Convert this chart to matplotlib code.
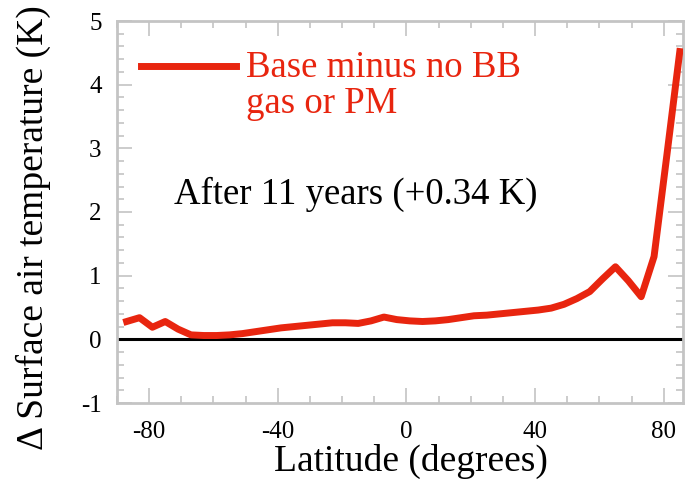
import numpy as np
import matplotlib.pyplot as plt
from matplotlib.ticker import MultipleLocator

plt.rcParams['font.family'] = ['Liberation Serif', 'DejaVu Serif']
plt.rcParams['axes.unicode_minus'] = False

# zonal mean change in surface air temperature, 4-degree latitude bands
lat = np.arange(-87, 86, 4)
dT = [0.28, 0.34, 0.19, 0.28, 0.16, 0.07, 0.06, 0.06, 0.07, 0.09,
      0.12, 0.15, 0.18, 0.20, 0.22, 0.24, 0.26, 0.26, 0.25, 0.29,
      0.35, 0.31, 0.29, 0.28, 0.29, 0.31, 0.34, 0.37, 0.38, 0.40,
      0.42, 0.44, 0.46, 0.49, 0.55, 0.64, 0.75, 0.95, 1.14, 0.92,
      0.67, 1.30, 2.90, 4.52]
series_label = 'Base minus no BB\ngas or PM'
note = 'After 11 years (+0.34 K)'

red = '#e8250f'
grey = '#c4c4c4'

fig = plt.figure(figsize=(6.9, 4.84), dpi=100)
ax = fig.add_axes([117/690, 81/484, 566/690, 382/484])

ax.axhline(0, color='black', lw=2.2, zorder=2)
ax.plot(lat, dT, color=red, lw=5, solid_joinstyle='round', zorder=3)

ax.set_xlim(-90, 86)
ax.set_ylim(-1, 5)
ax.xaxis.set_major_locator(MultipleLocator(40))
ax.xaxis.set_minor_locator(MultipleLocator(10))
ax.yaxis.set_major_locator(MultipleLocator(1))
ax.yaxis.set_minor_locator(MultipleLocator(0.2))
ax.tick_params(which='both', direction='in', top=True, right=True,
               color=grey, width=1.2, labelsize=18)
ax.tick_params(axis='x', pad=13)
ax.tick_params(axis='y', pad=11)
ax.tick_params(which='major', length=11)
ax.tick_params(which='minor', length=5)
for s in ax.spines.values():
    s.set_color(grey)
    s.set_linewidth(2)

ax.set_xlabel('Latitude (degrees)', fontsize=27)
ax.set_ylabel('\u0394 Surface air temperature (K)', fontsize=27)
ax.xaxis.set_label_coords(0.52, -0.108)
ax.yaxis.set_label_coords(-0.116, 0.46)

# hand-drawn key in the upper left
ax.plot([-82.5, -53], [4.30, 4.30], color=red, lw=5, zorder=3)
ax.text(-50, 3.56, series_label, color=red, fontsize=26.5,
        ha='left', va='baseline', linespacing=1.04)
ax.text(-72.3, 2.12, note, color='black', fontsize=26.5,
        ha='left', va='baseline')

fig.savefig('out.png', dpi=100)
